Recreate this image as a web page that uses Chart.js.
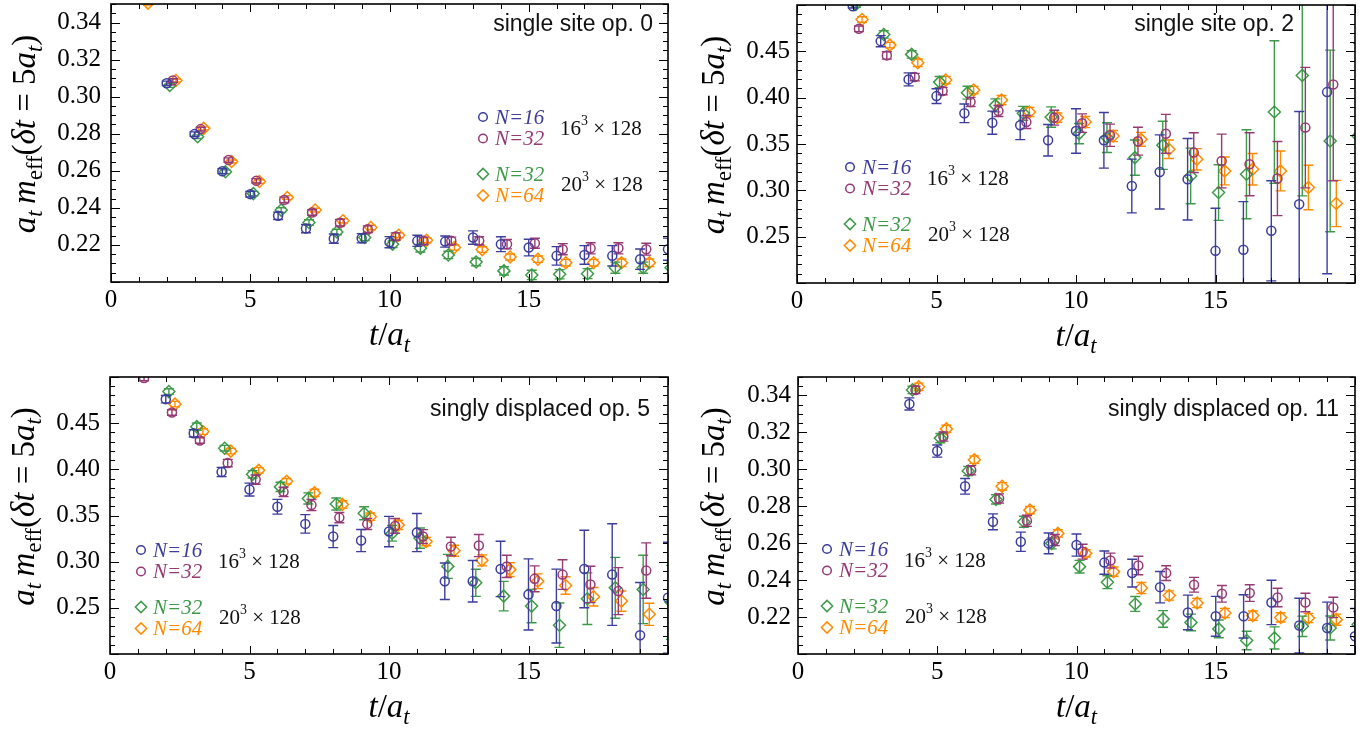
<!DOCTYPE html>
<html><head><meta charset="utf-8">
<script src="https://cdn.jsdelivr.net/npm/chart.js@4.4.0/dist/chart.umd.min.js"></script>
<style>
body{margin:0;background:#fff;width:1367px;height:731px;overflow:hidden;position:relative}
canvas{position:absolute}
</style></head><body>
<canvas id="c1" width="683" height="365" style="left:0;top:0"></canvas>
<canvas id="c2" width="684" height="365" style="left:683px;top:0"></canvas>
<canvas id="c3" width="683" height="366" style="left:0;top:365px"></canvas>
<canvas id="c4" width="684" height="366" style="left:683px;top:365px"></canvas>
<script>
// ---------- data ----------
const T = [1,2,3,4,5,6,7,8,9,10,11,12,13,14,15,16,17,18,19,20];
const xTickLabels = [0,5,10,15];
const seriesNames = ['N=16','N=32','N=32','N=64'];
const panelTitles = ['single site op. 0','single site op. 2','singly displaced op. 5','singly displaced op. 11'];
const p1YTicks = [0.22,0.24,0.26,0.28,0.30,0.32,0.34];
const p2YTicks = [0.25,0.30,0.35,0.40,0.45];
const p3YTicks = [0.25,0.30,0.35,0.40,0.45];
const p4YTicks = [0.22,0.24,0.26,0.28,0.30,0.32,0.34];

// panel 1: single site op. 0
const p1N16    = [null,0.3072,0.2798,0.2598,0.2474,0.2357,0.2288,0.2234,0.2236,0.2215,0.2222,0.2218,0.2240,0.2204,0.2186,0.2141,0.2146,0.2141,0.2123,0.2177];
const p1N16Err = [null,0.0012,0.0012,0.0013,0.0015,0.0020,0.0022,0.0025,0.0025,0.0030,0.0030,0.0030,0.0036,0.0040,0.0045,0.0050,0.0050,0.0055,0.0055,0.0060];
const p1N32a    = [null,0.3087,0.2825,0.2658,0.2546,0.2443,0.2375,0.2320,0.2285,0.2245,0.2222,0.2222,0.2222,0.2204,0.2209,0.2177,0.2182,0.2182,0.2177,null];
const p1N32aErr = [null,0.0010,0.0010,0.0012,0.0012,0.0015,0.0015,0.0018,0.0018,0.0020,0.0020,0.0020,0.0022,0.0025,0.0027,0.0030,0.0030,0.0030,0.0032,null];
const p1N32b    = [null,0.3060,0.2784,0.2595,0.2477,0.2388,0.2321,0.2270,0.2240,0.2204,0.2182,0.2146,0.2108,0.2060,0.2038,0.2042,0.2045,0.2077,0.2077,0.2077];
const p1N32bErr = [null,0.0010,0.0010,0.0010,0.0012,0.0013,0.0015,0.0015,0.0017,0.0018,0.0020,0.0020,0.0020,0.0022,0.0025,0.0025,0.0027,0.0030,0.0030,0.0030];
const p1N64    = [0.3505,0.3087,0.2829,0.2650,0.2542,0.2456,0.2388,0.2330,0.2294,0.2252,0.2225,0.2186,0.2175,0.2135,0.2123,0.2104,0.2104,0.2104,0.2104,null];
const p1N64Err = [0.0010,0.0008,0.0008,0.0008,0.0010,0.0010,0.0010,0.0012,0.0012,0.0013,0.0013,0.0014,0.0015,0.0016,0.0017,0.0018,0.0018,0.0020,0.0020,null];

// panel 2: single site op. 2
const p2N16    = [null,0.4987,0.4610,0.4197,0.4017,0.3831,0.3730,0.3702,0.3540,0.3640,0.3540,0.3047,0.3198,0.3120,0.2347,0.2358,0.2563,0.2850,0.4060,null];
const p2N16Err = [null,0.002,0.006,0.007,0.008,0.010,0.0125,0.0155,0.017,0.024,0.030,0.029,0.040,0.044,0.046,0.052,0.054,0.100,0.196,null];
const p2N32a    = [null,0.4743,0.4456,0.4222,0.4071,0.3953,0.3856,0.3737,0.3784,0.3725,0.3594,0.3530,0.3610,0.3407,0.3317,0.3281,0.3127,0.3677,0.4143,null];
const p2N32aErr = [null,0.003,0.004,0.004,0.004,0.005,0.006,0.007,0.008,0.010,0.012,0.015,0.021,0.0215,0.029,0.034,0.040,0.065,0.104,null];
const p2N32b    = [null,0.5005,0.4682,0.4467,0.4168,0.4054,0.3917,0.3831,0.3791,0.3612,0.3569,0.3353,0.3486,0.3155,0.2976,0.3174,0.3845,0.4240,0.3533,0.3586];
const p2N32bErr = [null,0.003,0.004,0.004,0.006,0.007,0.007,0.0075,0.011,0.011,0.016,0.019,0.026,0.030,0.030,0.048,0.077,0.130,0.098,0.100];
const p2N64    = [null,0.4844,0.4567,0.4377,0.4190,0.4082,0.3974,0.3845,0.3784,0.3737,0.3586,0.3550,0.3443,0.3335,0.3209,0.3227,0.3209,0.3030,0.2858,null];
const p2N64Err = [null,0.003,0.003,0.004,0.004,0.004,0.005,0.005,0.005,0.006,0.006,0.0075,0.010,0.0115,0.015,0.017,0.0215,0.024,0.025,null];

// panel 3: singly displaced op. 5
const p3N16    = [null,0.4760,0.4390,0.3971,0.3781,0.3595,0.3409,0.3272,0.3229,0.3326,0.3315,0.2788,0.2788,0.2921,0.2645,0.2519,0.2921,0.2860,0.2204,0.2610];
const p3N16Err = [null,0.004,0.004,0.005,0.007,0.008,0.010,0.012,0.012,0.0165,0.0206,0.0197,0.0225,0.030,0.0385,0.040,0.042,0.055,0.057,0.060];
const p3N32a    = [0.4990,0.4616,0.4312,0.4068,0.3889,0.3756,0.3613,0.3477,0.3409,0.3387,0.3272,0.3164,0.3175,0.2949,0.2814,0.2860,0.2753,0.2681,0.2903,null];
const p3N32aErr = [0.003,0.003,0.003,0.004,0.005,0.005,0.006,0.0055,0.006,0.008,0.0075,0.010,0.012,0.012,0.014,0.016,0.0197,0.0255,0.030,null];
const p3N32b    = [null,0.4842,0.4462,0.4229,0.3946,0.3810,0.3685,0.3624,0.3524,0.3308,0.3255,0.2949,0.2771,0.2627,0.2519,0.2312,0.2599,0.2717,0.2699,0.2560];
const p3N32bErr = [null,0.003,0.004,0.003,0.004,0.005,0.006,0.0065,0.007,0.0085,0.011,0.013,0.0147,0.016,0.018,0.024,0.028,0.033,0.037,0.040];
const p3N64    = [null,0.4706,0.4409,0.4197,0.3989,0.3871,0.3745,0.3620,0.3487,0.3398,0.3218,0.3118,0.3014,0.2914,0.2788,0.2742,0.2620,0.2573,0.2430,null];
const p3N64Err = [null,0.003,0.003,0.003,0.003,0.003,0.004,0.004,0.004,0.005,0.0045,0.006,0.006,0.0075,0.008,0.0095,0.010,0.011,0.012,null];

// panel 4: singly displaced op. 11
const p4N16    = [null,null,null,0.3354,0.3099,0.2908,0.2716,0.2608,0.2599,0.2590,0.2495,0.2438,0.2362,0.2225,0.2204,0.2204,0.2279,0.2154,0.2141,0.2096];
const p4N16Err = [null,null,null,0.0033,0.0033,0.0042,0.0043,0.0052,0.0056,0.0060,0.0063,0.0075,0.0085,0.0094,0.0108,0.0117,0.0120,0.0148,0.0140,0.0150];
const p4N32a    = [null,null,null,0.3430,0.3178,0.2995,0.2842,0.2721,0.2617,0.2554,0.2506,0.2479,0.2438,0.2375,0.2326,0.2330,0.2306,0.2279,0.2252,null];
const p4N32aErr = [null,null,null,0.0020,0.0025,0.0025,0.0025,0.0030,0.0030,0.0040,0.0040,0.0050,0.0040,0.0040,0.0045,0.0045,0.0050,0.0050,0.0055,null];
const p4N32b    = [null,null,null,0.3430,0.3169,0.2991,0.2837,0.2716,0.2599,0.2473,0.2389,0.2271,0.2190,0.2171,0.2136,0.2073,0.2087,0.2150,0.2141,0.2160];
const p4N32bErr = [null,null,null,0.0020,0.0025,0.0025,0.0025,0.0030,0.0030,0.0034,0.0035,0.0040,0.0045,0.0045,0.0048,0.0050,0.0060,0.0055,0.0065,0.0070];
const p4N64    = [null,null,null,0.3447,0.3219,0.3052,0.2908,0.2779,0.2653,0.2545,0.2446,0.2357,0.2317,0.2276,0.2222,0.2208,0.2198,0.2195,0.2186,null];
const p4N64Err = [null,null,null,0.0020,0.0020,0.0020,0.0020,0.0020,0.0020,0.0020,0.0025,0.0030,0.0025,0.0025,0.0025,0.0025,0.0025,0.0025,0.0030,null];

// ---------- styles / layout ----------
const STYLE = [
  {color:'#3d3d9c', shape:'circle',  r:4.5, dx:0.00},
  {color:'#963a74', shape:'circle',  r:4.5, dx:0.22},
  {color:'#3e9a48', shape:'rectRot', r:6.0, dx:0.11},
  {color:'#ff8a00', shape:'rectRot', r:6.0, dx:0.33}
];
const CAP = 5;
const SERIF = '"Liberation Serif", "Times New Roman", serif';
const SANS = '"Liberation Sans", Arial, sans-serif';

const PANELS = [
  {id:'c1', W:683, H:365, area:{l:111,t:4,r:668,b:282}, ymin:0.20, ymax:0.35, yTicks:p1YTicks, major:0.02, minor:0.005, labPad:10,
   legend:{x:372,y:113}, title:{dr:15,dy:21}, ytitleDx:-76, name:panelTitles[0],
   series:[[p1N16,p1N16Err],[p1N32a,p1N32aErr],[p1N32b,p1N32bErr],[p1N64,p1N64Err]]},
  {id:'c2', W:684, H:365, area:{l:114,t:5,r:672,b:283}, ymin:0.20, ymax:0.50, yTicks:p2YTicks, major:0.05, minor:0.01, labPad:7,
   legend:{x:53,y:162}, title:{dr:61,dy:20}, ytitleDx:-73, name:panelTitles[1],
   series:[[p2N16,p2N16Err],[p2N32a,p2N32aErr],[p2N32b,p2N32bErr],[p2N64,p2N64Err]]},
  {id:'c3', W:683, H:366, area:{l:110,t:12,r:668,b:289}, ymin:0.20, ymax:0.50, yTicks:p3YTicks, major:0.05, minor:0.01, labPad:10,
   legend:{x:31,y:173}, title:{dr:18,dy:33}, ytitleDx:-76, name:panelTitles[2],
   series:[[p3N16,p3N16Err],[p3N32a,p3N32aErr],[p3N32b,p3N32bErr],[p3N64,p3N64Err]]},
  {id:'c4', W:684, H:366, area:{l:115,t:12,r:672,b:289}, ymin:0.20, ymax:0.35, yTicks:p4YTicks, major:0.02, minor:0.005, labPad:7,
   legend:{x:29,y:172}, title:{dr:16,dy:33}, ytitleDx:-74, name:panelTitles[3],
   series:[[p4N16,p4N16Err],[p4N32a,p4N32aErr],[p4N32b,p4N32bErr],[p4N64,p4N64Err]]}
];

function drawRich(ctx, parts, x, y, base, align) {
  const items = parts.map(p => {
    const f = (p[1] === 'i' ? 'italic ' : '') + (base * p[2]).toFixed(1) + 'px ' + SERIF;
    ctx.font = f;
    return {t:p[0], f, w:ctx.measureText(p[0]).width, dy:(p[3]||0) * base};
  });
  const total = items.reduce((s, it) => s + it.w, 0);
  let cx = align === 'center' ? x - total / 2 : x;
  items.forEach(it => { ctx.font = it.f; ctx.fillText(it.t, cx, y + it.dy); cx += it.w; });
  return total;
}

function drawMarker(ctx, shape, x, y, r, color) {
  ctx.save();
  ctx.strokeStyle = color; ctx.lineWidth = 1.5;
  ctx.beginPath();
  if (shape === 'circle') ctx.arc(x, y, r, 0, Math.PI * 2);
  else { ctx.moveTo(x, y - r); ctx.lineTo(x + r, y); ctx.lineTo(x, y + r); ctx.lineTo(x - r, y); ctx.closePath(); }
  ctx.stroke();
  ctx.restore();
}

function makePlugin(P) {
  return {
    id: 'decor',
    beforeDatasetDraw(chart, args) {
      const ds = chart.data.datasets[args.index];
      const {ctx, chartArea:a, scales:{x, y}} = chart;
      ctx.save();
      ctx.beginPath(); ctx.rect(a.left, a.top, a.right - a.left, a.bottom - a.top); ctx.clip();
      ctx.strokeStyle = ds.errColor; ctx.lineWidth = 1.4;
      ctx.beginPath();
      ds.data.forEach(p => {
        if (p.e == null) return;
        const px = x.getPixelForValue(p.x);
        const y1 = y.getPixelForValue(p.y + p.e), y2 = y.getPixelForValue(p.y - p.e);
        ctx.moveTo(px, y1); ctx.lineTo(px, y2);
        ctx.moveTo(px - CAP, y1); ctx.lineTo(px + CAP, y1);
        ctx.moveTo(px - CAP, y2); ctx.lineTo(px + CAP, y2);
      });
      ctx.stroke();
      ctx.restore();
    },
    afterDraw(chart) {
      const {ctx, chartArea:a, scales:{x, y}} = chart;
      ctx.save();
      // ticks on all four sides
      ctx.strokeStyle = '#000'; ctx.lineWidth = 1;
      ctx.beginPath();
      for (let v = 0; v <= 20.0001; v += 1) {
        const px = Math.round(x.getPixelForValue(v)) + 0.5;
        const len = (v % 5 === 0) ? 8 : 5;
        ctx.moveTo(px, a.bottom); ctx.lineTo(px, a.bottom - len);
        ctx.moveTo(px, a.top); ctx.lineTo(px, a.top + len);
      }
      const nMinor = Math.round((P.ymax - P.ymin) / P.minor);
      for (let k = 0; k <= nMinor; k++) {
        const v = P.ymin + k * P.minor;
        const q = v / P.major;
        const isMajor = Math.abs(q - Math.round(q)) < 1e-6;
        const py = Math.round(y.getPixelForValue(v)) + 0.5;
        const len = isMajor ? 9 : 5;
        ctx.moveTo(a.left, py); ctx.lineTo(a.left + len, py);
        ctx.moveTo(a.right, py); ctx.lineTo(a.right - len, py);
      }
      ctx.stroke();
      // frame
      ctx.lineWidth = 1.6;
      ctx.strokeRect(a.left, a.top, a.right - a.left, a.bottom - a.top);

      // panel title
      ctx.fillStyle = '#111';
      ctx.font = '23px ' + SANS;
      ctx.textAlign = 'right'; ctx.textBaseline = 'middle';
      ctx.fillText(P.name, a.right - P.title.dr, a.top + P.title.dy);

      // legend
      ctx.textAlign = 'left'; ctx.textBaseline = 'middle';
      const rows = [0, 21.5, 57, 78.5];
      const lx = a.left + P.legend.x, ly = a.top + P.legend.y;
      STYLE.forEach((st, k) => {
        drawMarker(ctx, st.shape, lx, ly + rows[k], st.shape === 'circle' ? 4.3 : 5.6, st.color);
        ctx.fillStyle = st.color;
        ctx.font = 'italic 21px ' + SERIF;
        ctx.fillText(seriesNames[k], lx + 12, ly + rows[k] + 1);
      });
      ctx.fillStyle = '#111';
      [['16', 11, 77], ['20', 67, 78]].forEach(g => {
        drawRich(ctx, [[g[0], 'r', 1, 0], ['3', 'r', 0.66, -0.38], [' \u00d7 128', 'r', 1, 0]], lx + g[2], ly + g[1] + 1, 21, 'left');
      });

      // x axis title: t / a_t
      ctx.fillStyle = '#000';
      ctx.textAlign = 'left'; ctx.textBaseline = 'alphabetic';
      drawRich(ctx, [['t', 'i', 1, 0], ['/', 'r', 1, 0], ['a', 'i', 1, 0], ['t', 'i', 0.68, 0.22]],
               (a.left + a.right) / 2, a.bottom + 63, 33, 'center');

      // y axis title: a_t m_eff(δt = 5a_t)
      ctx.save();
      ctx.translate(a.left + P.ytitleDx, (a.top + a.bottom) / 2 - 9);
      ctx.rotate(-Math.PI / 2);
      drawRich(ctx, [
        ['a', 'i', 1, 0], ['t', 'i', 0.68, 0.22], ['\u2009', 'r', 1, 0], ['m', 'i', 1, 0], ['eff', 'r', 0.68, 0.22],
        ['(', 'r', 1, 0], ['\u03b4', 'i', 1, 0], ['t', 'i', 1, 0], [' = ', 'r', 1, 0], ['5', 'r', 1, 0],
        ['a', 'i', 1, 0], ['t', 'i', 0.68, 0.22], [')', 'r', 1, 0]
      ], 0, 0, 33, 'center');
      ctx.restore();
      ctx.restore();
    }
  };
}

PANELS.forEach(P => {
  const datasets = P.series.map(([vals, errs], k) => {
    const st = STYLE[k];
    const data = [];
    T.forEach((t, i) => { if (vals[i] != null) data.push({x: t + st.dx, y: vals[i], e: errs[i]}); });
    return {
      data, showLine:false, errColor:st.color,
      pointStyle:st.shape, pointRadius:st.r, pointHoverRadius:st.r,
      pointBorderColor:st.color, pointBackgroundColor:'rgba(0,0,0,0)', pointBorderWidth:1.5,
      borderColor:st.color, backgroundColor:'rgba(0,0,0,0)'
    };
  });
  const A = P.area;
  new Chart(document.getElementById(P.id), {
    type:'scatter',
    data:{datasets},
    options:{
      responsive:false, animation:false, devicePixelRatio:1,
      events:[],
      layout:{autoPadding:false, padding:{left:0, top:A.t, right:P.W - A.r, bottom:0}},
      plugins:{legend:{display:false}, tooltip:{enabled:false}},
      scales:{
        x:{
          type:'linear', min:0, max:20,
          grid:{display:false, drawTicks:false}, border:{display:false},
          afterBuildTicks(s){ s.ticks = xTickLabels.map(v => ({value:v})); },
          afterFit(s){ s.height = P.H - A.b; s.paddingLeft = 0; s.paddingRight = 0; },
          ticks:{autoSkip:false, maxRotation:0, padding:3, color:'#000',
                 font:{family:SERIF, size:25}, callback:v => String(v)}
        },
        y:{
          type:'linear', min:P.ymin, max:P.ymax,
          grid:{display:false, drawTicks:false}, border:{display:false},
          afterBuildTicks(s){ s.ticks = P.yTicks.map(v => ({value:v})); },
          afterFit(s){ s.width = A.l; s.paddingTop = 0; s.paddingBottom = 0; },
          ticks:{autoSkip:false, padding:P.labPad, color:'#000',
                 font:{family:SERIF, size:25}, callback:v => v.toFixed(2)}
        }
      }
    },
    plugins:[makePlugin(P)]
  });
});
</script>
</body></html>
